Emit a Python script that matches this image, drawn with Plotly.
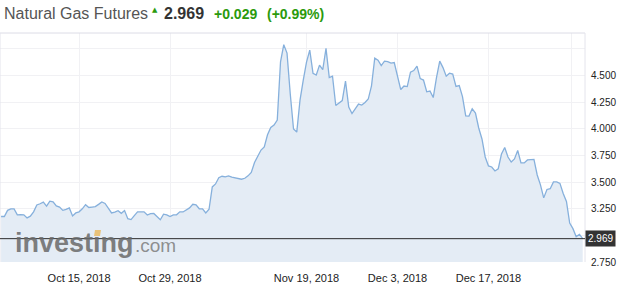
import pandas as pd
import plotly.graph_objects as go

# ---- data ----
start_date = "2018-10-03 00:00"
step = "12h"
prices = [
    3.177, 3.177, 3.235, 3.249, 3.249, 3.193, 3.195, 3.193, 3.164, 3.180,
    3.221, 3.286, 3.297, 3.312, 3.274, 3.321, 3.314, 3.277, 3.265, 3.235,
    3.244, 3.258, 3.183, 3.211, 3.221, 3.249, 3.288, 3.262, 3.266, 3.270,
    3.291, 3.314, 3.300, 3.256, 3.211, 3.218, 3.232, 3.207, 3.233, 3.157,
    3.148, 3.185, 3.220, 3.220, 3.221, 3.191, 3.204, 3.206, 3.172, 3.147,
    3.199, 3.193, 3.176, 3.193, 3.193, 3.221, 3.220, 3.238, 3.258, 3.292,
    3.286, 3.250, 3.249, 3.211, 3.245, 3.455, 3.483, 3.542, 3.555, 3.549,
    3.558, 3.546, 3.539, 3.533, 3.527, 3.536, 3.559, 3.591, 3.684, 3.743,
    3.801, 3.830, 3.945, 4.013, 4.036, 4.083, 4.630, 4.790, 4.711, 4.327,
    3.999, 3.970, 4.270, 4.458, 4.627, 4.739, 4.521, 4.505, 4.598, 4.556,
    4.755, 4.481, 4.495, 4.219, 4.247, 4.266, 4.448, 4.205, 4.144, 4.186,
    4.233, 4.224, 4.247, 4.280, 4.404, 4.664, 4.645, 4.594, 4.636, 4.631,
    4.617, 4.622, 4.491, 4.369, 4.402, 4.397, 4.533, 4.547, 4.589, 4.472,
    4.458, 4.348, 4.355, 4.294, 4.481, 4.636, 4.575, 4.495, 4.523, 4.514,
    4.399, 4.406, 4.303, 4.122, 4.120, 4.188, 4.149, 4.008, 3.905, 3.736,
    3.652, 3.642, 3.605, 3.624, 3.764, 3.825, 3.736, 3.689, 3.717, 3.797,
    3.680, 3.680, 3.708, 3.708, 3.713, 3.567, 3.474, 3.352, 3.431, 3.438,
    3.502, 3.502, 3.488, 3.394, 3.319, 3.115, 3.063, 2.988, 3.010, 2.969,
]
dates = pd.date_range(start_date, periods=len(prices), freq=step)

x_tick_dates = ["2018-10-15", "2018-10-29", "2018-11-19", "2018-12-03", "2018-12-17", "2018-12-29 18:00"]
x_tick_labels = ["Oct 15, 2018", "Oct 29, 2018", "Nov 19, 2018", "Dec 3, 2018", "Dec 17, 2018", ""]
y_tick_values = [2.75, 3.0, 3.25, 3.5, 3.75, 4.0, 4.25, 4.5, 4.75]
y_tick_labels = ["2.750", "", "3.250", "3.500", "3.750", "4.000", "4.250", "4.500", ""]

title_name = "Natural Gas Futures"
last_price = 2.969
change = "+0.029"
change_pct = "(+0.99%)"

GREEN = "#2b9a0c"
FONT = "Liberation Sans, Arial, sans-serif"

fig = go.Figure()
fig.add_trace(go.Scatter(
    x=dates, y=prices, mode="lines",
    line=dict(color="#86b0dc", width=1.3),
    fill="tozeroy", fillcolor="#e4ecf5",
    hoverinfo="skip", showlegend=False,
))

W, H = 625, 303
ml, mr, mt, mb = 0, 40, 33, 41
pw = W - ml - mr
ph = H - mt - mb


def px_x(px):
    return (px - ml) / pw


def px_y(py):
    return (H - mb - py) / ph


shapes = [
    dict(type="line", xref="paper", yref="paper", x0=0, x1=1, y0=1, y1=1,
         line=dict(color="#dcdce6", width=1)),
    dict(type="line", xref="paper", yref="paper", x0=0, x1=0, y0=0, y1=1,
         line=dict(color="#e4e4ec", width=1)),
    dict(type="line", xref="paper", yref="paper", x0=1, x1=1, y0=0, y1=1,
         line=dict(color="#e4e4ec", width=1)),
    dict(type="line", xref="paper", yref="y", x0=0, x1=1, y0=last_price, y1=last_price,
         line=dict(color="#2b2b2b", width=1), layer="above"),
    dict(type="path", xref="paper", yref="paper", layer="above",
         path=f"M {px_x(94)},{px_y(236)} L {px_x(100)},{px_y(236)} L {px_x(101)},{px_y(230)} L {px_x(95)},{px_y(230)} Z",
         fillcolor="#e9c37a", line=dict(width=0)),
]

annotations = [
    dict(text=title_name, x=px_x(2), y=px_y(13), xref="paper", yref="paper",
         xanchor="left", yanchor="middle", showarrow=False,
         font=dict(family=FONT, size=16, color="#555555")),
    dict(text="▲", x=px_x(154.5), y=px_y(10), xref="paper", yref="paper",
         xanchor="center", yanchor="middle", showarrow=False,
         font=dict(family="DejaVu Sans", size=7, color=GREEN)),
    dict(text=f"<b>{last_price:.3f}</b>", x=px_x(162), y=px_y(13.5), xref="paper", yref="paper",
         xanchor="left", yanchor="middle", showarrow=False,
         font=dict(family=FONT, size=16, color="#333333")),
    dict(text=f"<b>{change}</b>", x=px_x(212), y=px_y(14), xref="paper", yref="paper",
         xanchor="left", yanchor="middle", showarrow=False,
         font=dict(family=FONT, size=14, color=GREEN)),
    dict(text=f"<b>{change_pct}</b>", x=px_x(265), y=px_y(14), xref="paper", yref="paper",
         xanchor="left", yanchor="middle", showarrow=False,
         font=dict(family=FONT, size=14, color=GREEN)),
    dict(text="<b>investıng</b>", x=px_x(13), y=px_y(243), xref="paper", yref="paper",
         xanchor="left", yanchor="middle", showarrow=False,
         font=dict(family=FONT, size=27, color="rgba(105,105,105,0.85)")),
    dict(text=".com", x=px_x(133), y=px_y(245), xref="paper", yref="paper",
         xanchor="left", yanchor="middle", showarrow=False,
         font=dict(family=FONT, size=19, color="rgba(125,125,125,0.85)")),
    dict(text=f"{last_price:.3f}", x=1, y=last_price, xref="paper", yref="y",
         xanchor="left", yanchor="middle", showarrow=False,
         bgcolor="#333333", borderpad=2,
         font=dict(family=FONT, size=10, color="#ffffff")),
]

fig.update_layout(
    width=W, height=H,
    margin=dict(l=ml, r=mr, t=mt, b=mb, pad=0),
    paper_bgcolor="white", plot_bgcolor="white",
    font=dict(family=FONT, size=11, color="#222222"),
    shapes=shapes, annotations=annotations,
    xaxis=dict(type="date", range=["2018-10-02 20:00", "2018-12-31 20:30"],
               tickvals=x_tick_dates, ticktext=x_tick_labels,
               showgrid=True, gridcolor="#f1f1f4", gridwidth=1,
               zeroline=False, showline=False, ticks="",
               tickfont=dict(size=11, color="#222222"), ticklabelstandoff=8),
    yaxis=dict(side="right", range=[2.75, 4.9],
               tickvals=y_tick_values, ticktext=y_tick_labels,
               showgrid=True, gridcolor="#f1f1f4", gridwidth=1,
               zeroline=False, showline=False, ticks="",
               tickfont=dict(size=10, color="#222222"), ticklabelstandoff=5),
)

fig.write_html("out.html")
